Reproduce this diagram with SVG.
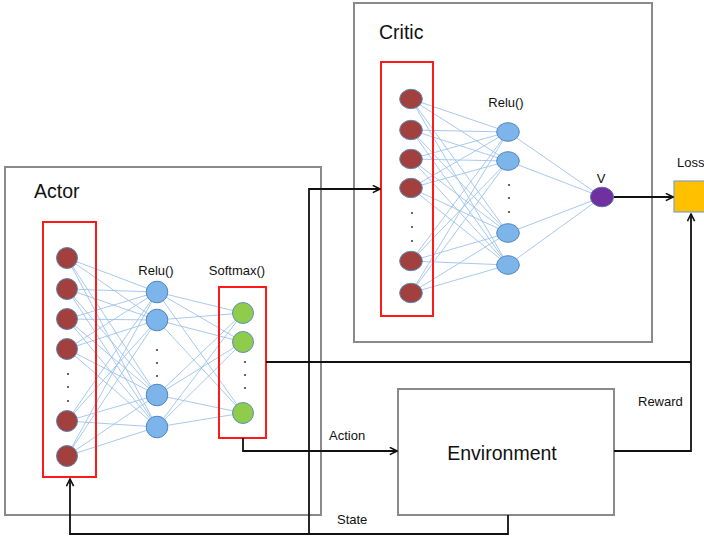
<svg xmlns="http://www.w3.org/2000/svg" width="704" height="537" viewBox="0 0 704 537">
<defs>
<style>
text{font-family:"Liberation Sans",Arial,sans-serif;fill:#111}
.panel{fill:#fff;stroke:#8a8a8a;stroke-width:2}
.red{fill:none;stroke:#ff1a1a;stroke-width:2}
.edge{fill:none;stroke:#9dc3ec;stroke-width:0.9}
.in{fill:#a2403d;stroke:#5b84b8;stroke-width:1}
.hid{fill:#7db4ea;stroke:#4f86c0;stroke-width:1}
.out{fill:#8fcc4c;stroke:#5a8fc0;stroke-width:1}
.v{fill:#7030a0;stroke:#5a6fb0;stroke-width:1}
.dot{fill:#333}
.wire{fill:none;stroke:#111;stroke-width:1.8}
.big{font-size:19.5px}
.sm{font-size:13px}
</style>
<marker id="arr" viewBox="0 0 10 10" refX="9" refY="5" markerWidth="9" markerHeight="9" markerUnits="userSpaceOnUse" orient="auto">
<path d="M1,1 L9,5 L1,9" fill="none" stroke="#111" stroke-width="1.8"/>
</marker>
</defs>

<g id="actor">
<rect class="panel" x="5" y="167" width="316" height="348"/>
<text class="big" x="34" y="198">Actor</text>
<path class="edge" d="M67,258L157,292M67,258L157,320M67,258L157,395M67,258L157,427M67,289L157,292M67,289L157,320M67,289L157,395M67,289L157,427M67,319L157,292M67,319L157,320M67,319L157,395M67,319L157,427M67,349L157,292M67,349L157,320M67,349L157,395M67,349L157,427M67,421L157,292M67,421L157,320M67,421L157,395M67,421L157,427M67,456L157,292M67,456L157,320M67,456L157,395M67,456L157,427"/>
<path class="edge" d="M157,292L243,313M157,292L243,342M157,292L243,413M157,320L243,313M157,320L243,342M157,320L243,413M157,395L243,313M157,395L243,342M157,395L243,413M157,427L243,313M157,427L243,342M157,427L243,413"/>
<rect class="red" x="43" y="222" width="53" height="255"/>
<circle class="in" cx="67" cy="258" r="10.5"/>
<circle class="in" cx="67" cy="289" r="10.5"/>
<circle class="in" cx="67" cy="319" r="10.5"/>
<circle class="in" cx="67" cy="349" r="10.5"/>
<circle class="in" cx="67" cy="421" r="10.5"/>
<circle class="in" cx="67" cy="456" r="10.5"/>
<circle class="dot" cx="68" cy="374" r="1"/>
<circle class="dot" cx="68" cy="387" r="1"/>
<circle class="dot" cx="68" cy="401" r="1"/>
<text class="sm" x="156" y="275" text-anchor="middle">Relu()</text>
<circle class="hid" cx="157" cy="292" r="10.8"/>
<circle class="hid" cx="157" cy="320" r="10.8"/>
<circle class="hid" cx="157" cy="395" r="10.8"/>
<circle class="hid" cx="157" cy="427" r="10.8"/>
<circle class="dot" cx="157" cy="350" r="1"/>
<circle class="dot" cx="157" cy="363" r="1"/>
<circle class="dot" cx="157" cy="376" r="1"/>
<text class="sm" x="237" y="275" text-anchor="middle">Softmax()</text>
<rect class="red" x="219" y="287" width="47" height="151"/>
<circle class="out" cx="243" cy="313" r="10.5"/>
<circle class="out" cx="243" cy="342" r="10.5"/>
<circle class="out" cx="243" cy="413" r="10.5"/>
<circle class="dot" cx="245" cy="362" r="1"/>
<circle class="dot" cx="245" cy="375" r="1"/>
<circle class="dot" cx="245" cy="388" r="1"/>
</g>

<g id="critic">
<rect class="panel" x="354" y="3" width="298" height="339"/>
<text class="big" x="379" y="39">Critic</text>
<path class="edge" d="M411,99L508,132M411,99L508,161M411,99L508,233M411,99L508,265M411,130L508,132M411,130L508,161M411,130L508,233M411,130L508,265M411,159L508,132M411,159L508,161M411,159L508,233M411,159L508,265M411,188L508,132M411,188L508,161M411,188L508,233M411,188L508,265M411,261L508,132M411,261L508,161M411,261L508,233M411,261L508,265M411,293L508,132M411,293L508,161M411,293L508,233M411,293L508,265"/>
<path class="edge" d="M508,132L602,197M508,161L602,197M508,233L602,197M508,265L602,197"/>
<rect class="red" x="381" y="62" width="52" height="254"/>
<ellipse class="in" cx="411" cy="99" rx="11.3" ry="9.7"/>
<ellipse class="in" cx="411" cy="130" rx="11.3" ry="9.7"/>
<ellipse class="in" cx="411" cy="159" rx="11.3" ry="9.7"/>
<ellipse class="in" cx="411" cy="188" rx="11.3" ry="9.7"/>
<ellipse class="in" cx="411" cy="261" rx="11.3" ry="9.7"/>
<ellipse class="in" cx="411" cy="293" rx="11.3" ry="9.7"/>
<circle class="dot" cx="412" cy="213" r="1"/>
<circle class="dot" cx="412" cy="227" r="1"/>
<circle class="dot" cx="412" cy="241" r="1"/>
<text class="sm" x="506" y="107" text-anchor="middle">Relu()</text>
<ellipse class="hid" cx="508" cy="132" rx="11.3" ry="9.3"/>
<ellipse class="hid" cx="508" cy="161" rx="11.3" ry="9.3"/>
<ellipse class="hid" cx="508" cy="233" rx="11.3" ry="9.3"/>
<ellipse class="hid" cx="508" cy="265" rx="11.3" ry="9.3"/>
<circle class="dot" cx="509" cy="185" r="1"/>
<circle class="dot" cx="509" cy="198" r="1"/>
<circle class="dot" cx="509" cy="212" r="1"/>
<text class="sm" x="601" y="183" text-anchor="middle">V</text>
<ellipse class="v" cx="602" cy="197" rx="11.5" ry="9.8"/>
</g>

<g id="loss">
<text class="sm" x="677" y="167">Loss</text>
<rect x="674" y="181" width="34" height="31" fill="#ffc000" stroke="#7f9fc8" stroke-width="1.2"/>
</g>

<g id="environment">
<rect class="panel" x="398" y="389" width="216" height="126"/>
<text class="big" x="502" y="460" text-anchor="middle">Environment</text>
</g>

<g id="connectors">
<path class="wire" d="M614,197 L673,197" marker-end="url(#arr)"/>
<path class="wire" d="M266,362 L691,362"/>
<path class="wire" d="M614,451 L691,451 L691,214" marker-end="url(#arr)"/>
<path class="wire" d="M243,438 L243,451 L397,451" marker-end="url(#arr)"/>
<path class="wire" d="M508,515 L508,534 L70,534 L70,479" marker-end="url(#arr)"/>
<path class="wire" d="M309,534 L309,189 L380,189" marker-end="url(#arr)"/>
<text class="sm" x="329" y="440">Action</text>
<text class="sm" x="337" y="524">State</text>
<text class="sm" x="638" y="406">Reward</text>
</g>
</svg>
